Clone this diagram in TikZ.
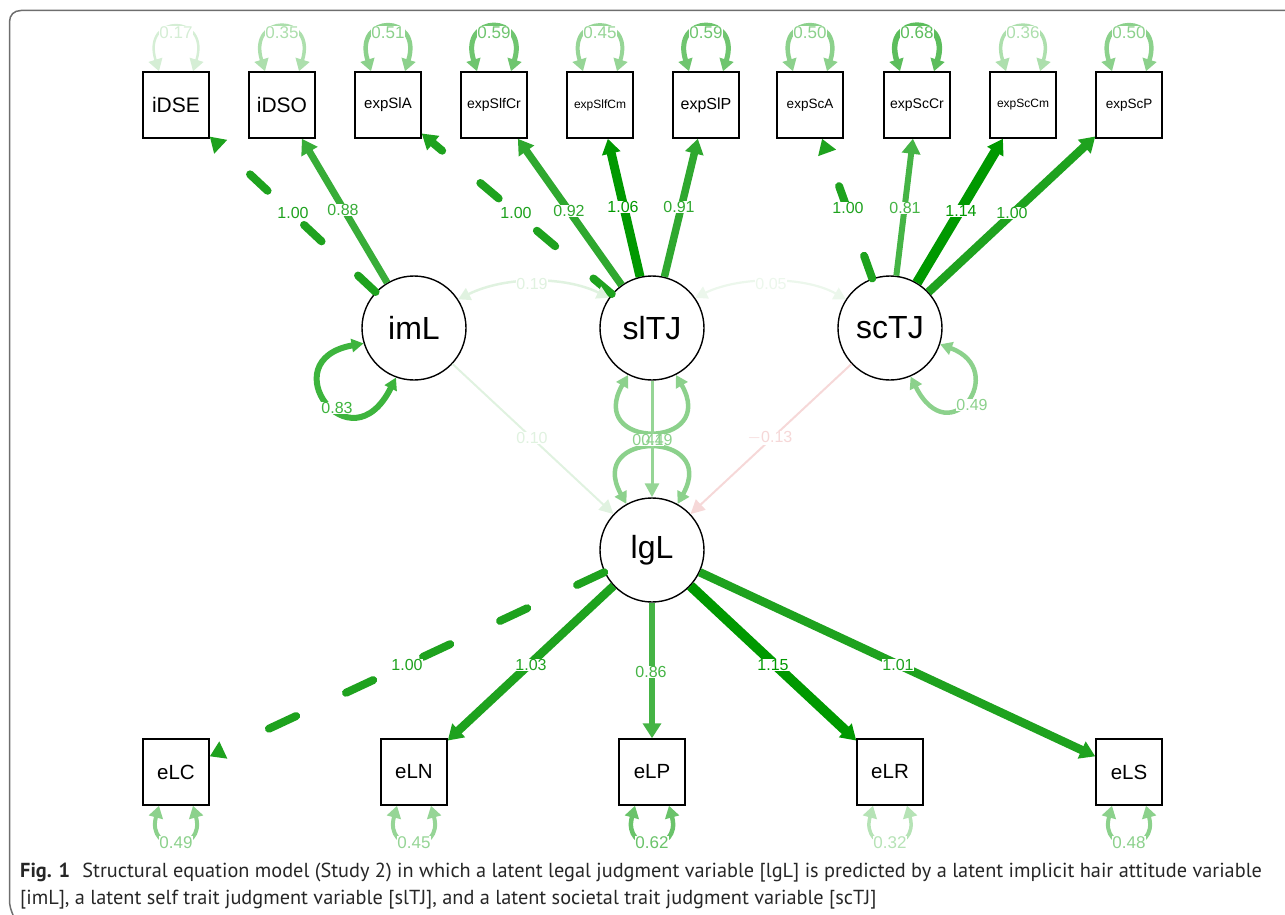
\documentclass[tikz,border=0pt]{standalone}
\usepackage{fontspec}
\setmainfont{Liberation Sans}
\newfontfamily\capfont{PT Sans}
\usetikzlibrary{arrows.meta}
\newcommand\myfs[1]{\fontsize{#1}{#1}\selectfont}
\definecolor{gA}{HTML}{009900}
\definecolor{gB}{HTML}{1EA21E}
\definecolor{gC}{HTML}{2FA82F}
\definecolor{gD}{HTML}{38AD38}
\definecolor{gE}{HTML}{45B445}
\definecolor{v17}{HTML}{D5EED5}
\definecolor{v32}{HTML}{B6E3B6}
\definecolor{v35}{HTML}{ADDFAD}
\definecolor{v45}{HTML}{96D596}
\definecolor{v49}{HTML}{8CD18C}
\definecolor{v59}{HTML}{6FC56F}
\definecolor{v62}{HTML}{6AC36A}
\definecolor{v68}{HTML}{5CBD5C}
\definecolor{v83}{HTML}{3DB43D}
\definecolor{pale}{HTML}{E0F2E0}
\definecolor{paler}{HTML}{ECF7EC}
\definecolor{palered}{HTML}{F6D8D8}
\definecolor{frame}{HTML}{6E6E6E}
\tikzset{
 obs/.style={draw=black, line width=1.5pt, minimum width=66pt, minimum height=66pt, inner sep=0pt, fill=white},
 lat/.style={draw=black, circle, line width=1.4pt, minimum size=104pt, inner sep=0pt, fill=white, font=\myfs{32}},
 lab/.style={fill=white, inner sep=0.8pt, font=\myfs{16}},
 ld/.style={-{Triangle[length=15pt,width=18pt]}},
 ldthin/.style={-{Triangle[length=14pt,width=14pt]}},
 fixd/.style={dash pattern=on 24pt off 50pt, line cap=round},
 fixdb/.style={dash pattern=on 30pt off 55pt, line cap=round},
 lp/.style={{Triangle[length=12pt,width=14pt]}-{Triangle[length=12pt,width=14pt]}},
 lpc/.style={{Triangle[length=12pt,width=13pt]}-{Triangle[length=12pt,width=13pt]}},
}
\newcommand\toploop[5]{%
 \draw[lp, color=#2, line width=#3pt] ([xshift=-17pt]#1.north) .. controls +(-18,-58) and +(18,-58) .. ([xshift=17pt]#1.north);
 \node[lab, text=#2, font=\myfs{17}] (v#1) at (#5,33) {#4};}
\newcommand\botloop[5]{%
 \draw[lp, color=#2, line width=#3pt] ([xshift=-17pt]#1.south) .. controls +(-13,48) and +(13,48) .. ([xshift=17pt]#1.south);
 \node[lab, text=#2, font=\myfs{17}] (v#1) at (#5,843) {#4};}
\begin{document}
\begin{tikzpicture}[x=1pt,y=-1pt]
\useasboundingbox (0,0) rectangle (1285,915);
% frame
\draw[frame, line width=1.5pt] (1285,10.5) -- (21,10.5) .. controls (14,10.5) and (9.5,15) .. (9.5,22) -- (9.5,900) .. controls (9.5,906) and (11,910) .. (13,915);
% observed top
\node[obs, font=\myfs{21}] (iDSE) at (176,105) {iDSE};
\node[obs, font=\myfs{21}] (iDSO) at (282,105) {iDSO};
\node[obs, font=\myfs{15}] (expSlA) at (388,105) {expSlA};
\node[obs, font=\myfs{14}] (expSlfCr) at (494,105) {expSlfCr};
\node[obs, font=\myfs{12}] (expSlfCm) at (600,105) {expSlfCm};
\node[obs, font=\myfs{16}] (expSlP) at (706,105) {expSlP};
\node[obs, font=\myfs{13.5}] (expScA) at (810,105) {expScA};
\node[obs, font=\myfs{14}] (expScCr) at (917,105) {expScCr};
\node[obs, font=\myfs{12}] (expScCm) at (1023,105) {expScCm};
\node[obs, font=\myfs{13.5}] (expScP) at (1129,105) {expScP};
% latent
\node[lat] (imL) at (414,328) {imL};
\node[lat] (slTJ) at (652,328) {slTJ};
\node[lat] (scTJ) at (890,328) {scTJ};
\node[lat] (lgL) at (652,550) {lgL};
% observed bottom
\node[obs, font=\myfs{20.5}] (eLC) at (176,772) {eLC};
\node[obs, font=\myfs{20.5}] (eLN) at (414,772) {eLN};
\node[obs, font=\myfs{20.5}] (eLP) at (652,772) {eLP};
\node[obs, font=\myfs{20.5}] (eLR) at (890,772) {eLR};
\node[obs, font=\myfs{20.5}] (eLS) at (1129,772) {eLS};
% loadings top
\draw[ld, fixd, gB, line width=8pt] (imL) -- (iDSE);
\draw[ld, gD, line width=7pt] (imL) -- (iDSO);
\draw[ld, fixd, gB, line width=8pt] (slTJ) -- (expSlA);
\draw[ld, gC, line width=7.5pt] (slTJ) -- (expSlfCr);
\draw[ld, gA, line width=9pt] (slTJ) -- (expSlfCm);
\draw[ld, gC, line width=7.5pt] (slTJ) -- (expSlP);
\draw[ld, fixd, gB, line width=8pt] (scTJ) -- (expScA);
\draw[ld, gE, line width=6pt] (scTJ) -- (expScCr);
\draw[ld, gA, line width=10pt] (scTJ) -- (expScCm);
\draw[ld, gB, line width=8.5pt] (scTJ) -- (expScP);
\node[lab, text=gB] (l1) at (293,213) {1.00};
\node[lab, text=gD] (l2) at (343,210) {0.88};
\node[lab, text=gB] (l3) at (516,213) {1.00};
\node[lab, text=gC] (l4) at (569,211) {0.92};
\node[lab, text=gA] (l5) at (623,207) {1.06};
\node[lab, text=gC] (l6) at (679,207) {0.91};
\node[lab, text=gB] (l7) at (848,208) {1.00};
\node[lab, text=gE] (l8) at (905,208) {0.81};
\node[lab, text=gA] (l9) at (961,211) {1.14};
\node[lab, text=gB] (l10) at (1012,213) {1.00};
% top variances
\toploop{iDSE}{v17}{2.5}{0.17}{176}
\toploop{iDSO}{v35}{3.5}{0.35}{282}
\toploop{expSlA}{v49}{4.5}{0.51}{388}
\toploop{expSlfCr}{v59}{5}{0.59}{494}
\toploop{expSlfCm}{v45}{4}{0.45}{600}
\toploop{expSlP}{v59}{5}{0.59}{706}
\toploop{expScA}{v49}{4.5}{0.50}{810}
\toploop{expScCr}{v68}{5.5}{0.68}{917}
\toploop{expScCm}{v35}{3.5}{0.36}{1023}
\toploop{expScP}{v49}{4.5}{0.50}{1129}
% latent covariances
\draw[lpc, pale, line width=2.5pt] (imL.33) .. controls (505,276) and (565,276) .. (slTJ.145);
\node[lab, text=pale] (c1) at (532,284) {0.19};
\draw[lpc, paler, line width=2.2pt] (slTJ.35) .. controls (740,276) and (805,276) .. (scTJ.147);
\node[lab, text=paler] (c2) at (771,284) {0.05};
% latent variances
\draw[lpc, v83, line width=6pt] (imL.197) .. controls (270,360) and (350,470) .. (imL.250);
\node[lab, text=v83] (c3) at (337,408) {0.83};
\draw[lpc, v49, line width=4.5pt] (scTJ.342) .. controls (1010,370) and (950,455) .. (scTJ.293);
\node[lab, text=v49] (c4) at (972,405) {0.49};
\draw[lpc, v49, line width=4.5pt] (slTJ.243) .. controls (585,450) and (719,450) .. (slTJ.297);
\draw[lpc, v49, line width=4.5pt] (lgL.119) .. controls (585,430) and (719,430) .. (lgL.61);
% regressions
\draw[ldthin, pale, line width=2pt] (imL) -- (lgL);
\draw[ldthin, palered, line width=2pt] (scTJ) -- (lgL);
\draw[ldthin, v45, line width=3pt] (slTJ) -- (lgL);
\node[lab, text=pale] (r1) at (532,438) {0.10};
\node[lab, text=palered] (r2) at (770,438) {$-$0.13};
\node[lab, text=v49] (r3) at (648,440) {0.41};
\node[lab, fill=none, text=v49] (r4) at (657,440) {0.49};
% loadings bottom
\draw[ld, fixdb, gB, line width=8pt] (lgL) -- (eLC);
\draw[ld, gB, line width=8.5pt] (lgL) -- (eLN);
\draw[ld, gE, line width=5.5pt] (lgL) -- (eLP);
\draw[ld, gA, line width=10pt] (lgL) -- (eLR);
\draw[ld, gB, line width=8.5pt] (lgL) -- (eLS);
\node[lab, text=gB] (b1) at (407,665) {1.00};
\node[lab, text=gB] (b2) at (531,665) {1.03};
\node[lab, text=gE] (b3) at (651,672) {0.86};
\node[lab, text=gA] (b4) at (773,665) {1.15};
\node[lab, text=gB] (b5) at (898,665) {1.01};
% bottom variances
\botloop{eLC}{v49}{4}{0.49}{176}
\botloop{eLN}{v45}{4}{0.45}{414}
\botloop{eLP}{v62}{4.5}{0.62}{652}
\botloop{eLR}{v32}{3.5}{0.32}{890}
\botloop{eLS}{v49}{4}{0.48}{1129}
% caption
\node[anchor=base west, inner sep=0pt, font=\capfont\myfs{20.3}, text=black!85] (cap1) at (20,877) {\textbf{Fig. 1}\hspace{0.6em}Structural equation model (Study 2) in which a latent legal judgment variable [lgL] is predicted by a latent implicit hair attitude variable};
\node[anchor=base west, inner sep=0pt, font=\capfont\myfs{20.3}, text=black!85] (cap2) at (20,904) {[imL], a latent self trait judgment variable [slTJ], and a latent societal trait judgment variable [scTJ]};
\end{tikzpicture}
\end{document}
